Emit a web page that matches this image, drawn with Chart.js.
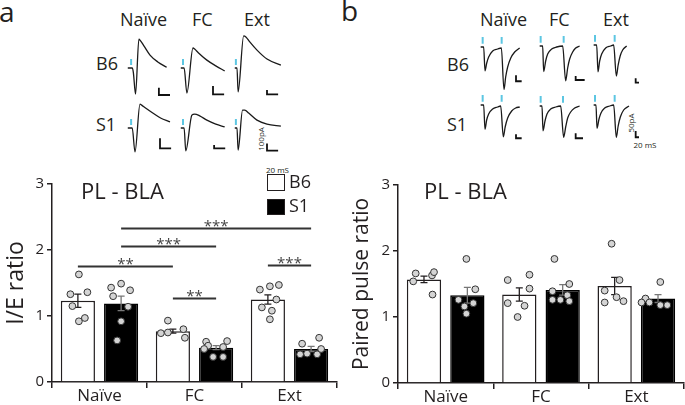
<!DOCTYPE html>
<html>
<head>
<meta charset="utf-8">
<script src="https://cdn.jsdelivr.net/npm/chart.js@4.4.0/dist/chart.umd.min.js"></script>
<style>
  body { margin: 0; background: #fff; }
  #fig { position: relative; width: 685px; height: 405px; overflow: hidden; background: #fff;
         font-family: "Open Sans", sans-serif; color: #231f20; }
  #fig canvas { position: absolute; }
  .lbl { position: absolute; white-space: nowrap; line-height: 1; }
  .panel { font-size: 28px; }
  .cond { font-size: 18px; }
  .ttl { font-size: 22px; }
  .scl { font-size: 8px; transform: translate(-50%, -50%); }
  .scl.rot { transform: translate(-50%, -50%) rotate(-90deg); }
  .box { position: absolute; box-sizing: border-box; width: 18px; height: 17px; border: 1.5px solid #231f20; }
</style>
</head>
<body>
<div id="fig">
  <div class="lbl panel" style="left:-1px;top:-3px">a</div>
  <div class="lbl panel" style="left:341px;top:-4px">b</div>

  <div class="lbl cond" style="left:120px;top:10px">Naïve</div>
  <div class="lbl cond" style="left:192px;top:10px">FC</div>
  <div class="lbl cond" style="left:244px;top:10px">Ext</div>
  <div class="lbl cond" style="left:96px;top:54px">B6</div>
  <div class="lbl cond" style="left:96px;top:115px">S1</div>
  <div class="lbl scl rot" style="left:260.5px;top:138.5px">100pA</div>
  <div class="lbl scl" style="left:277.5px;top:169.5px">20 mS</div>

  <div class="lbl cond" style="left:480px;top:10px">Naïve</div>
  <div class="lbl cond" style="left:549px;top:10px">FC</div>
  <div class="lbl cond" style="left:603px;top:10px">Ext</div>
  <div class="lbl cond" style="left:447px;top:55px">B6</div>
  <div class="lbl cond" style="left:447px;top:115px">S1</div>
  <div class="lbl scl rot" style="left:630.5px;top:123px">50pA</div>
  <div class="lbl scl" style="left:645px;top:144.5px">20 mS</div>

  <canvas id="ieChart" width="342" height="235" style="left:0;top:170px"></canvas>
  <canvas id="ieDots" width="342" height="235" style="left:0;top:170px"></canvas>
  <canvas id="pprChart" width="343" height="235" style="left:342px;top:170px"></canvas>
  <canvas id="pprDots" width="343" height="235" style="left:342px;top:170px"></canvas>

  <div class="lbl ttl" style="left:81px;top:179px">PL - BLA</div>
  <div class="lbl ttl" style="left:424px;top:179px">PL - BLA</div>
  <div class="box" style="left:267px;top:174px;background:#fff"></div>
  <div class="box" style="left:267px;top:199px;background:#000;height:16px"></div>
  <div class="lbl cond" style="left:289px;top:172px">B6</div>
  <div class="lbl cond" style="left:289px;top:196px">S1</div>
</div>
<script>
// I/E ratio and paired pulse ratio, PL - BLA, B6 vs S1 mice
const categories = ['Naïve', 'FC', 'Ext'];
const seriesNames = ['B6', 'S1'];
const yTicks = [0, 1, 2, 3];

// panel a: I/E ratio
const ieB6Mean = [1.23, 0.77, 1.25];
const ieS1Mean = [1.19, 0.52, 0.50];
const ieB6Sem = [0.10, 0.03, 0.07];
const ieS1Sem = [0.11, 0.03, 0.04];
const ieB6Points = [[1.63, 1.33, 1.36, 1.15, 0.92, 0.97], [0.93, 0.74, 0.75, 0.80, 0.67], [1.40, 1.45, 1.47, 1.25, 1.13, 1.08, 0.95]];
const ieS1Points = [[1.43, 1.49, 1.39, 1.30, 1.14, 0.92, 0.63], [0.61, 0.55, 0.50, 0.53, 0.62, 0.38, 0.38], [0.58, 0.67, 0.42, 0.43, 0.42, 0.50]];
// horizontal spread of the dots around the bar centre (px in the figure)
const ieB6Jitter = [[1, -7.5, 9.5, -5.5, 1, 7], [-5, -12, -5, 10.5, 12], [-8, 2, 11, 8.5, -6, 4, 2]];
const ieS1Jitter = [[-10, 0, 9, -8, 7, 0, -4], [-10, -8, -12, 7, 11, -3, 7], [-9, 8, -11, -4, 6, 10]];

// significance bars, bar index = category * 2 + series
const sigFrom = [0, 1, 1, 2, 4];
const sigTo = [2, 3, 5, 3, 5];
const sigHeight = [1.76, 2.06, 2.34, 1.28, 1.78];
const sigStars = ['**', '***', '***', '**', '***'];

// panel b: paired pulse ratio
const pprB6Mean = [1.57, 1.34, 1.47];
const pprS1Mean = [1.33, 1.41, 1.28];
const pprB6Sem = [0.05, 0.10, 0.13];
const pprS1Sem = [0.12, 0.08, 0.06];
const pprB6Points = [[1.54, 1.66, 1.63, 1.68, 1.34], [1.56, 1.64, 1.43, 1.21, 1.17, 1.00], [2.11, 1.56, 1.40, 1.22, 1.30, 1.24]];
const pprS1Points = [[1.88, 1.42, 1.26, 1.21, 1.16, 1.05], [1.88, 1.39, 1.50, 1.33, 1.26, 1.26, 1.24], [1.53, 1.28, 1.22, 1.22, 1.18, 1.18]];
const pprB6Jitter = [[-10.5, -8, 8.5, 10.5, 9], [-10, 12, 12, -10, 7, 0], [0, 8, -7, -7, 5, 12]];
const pprS1Jitter = [[0, 9, -8, 7, -2, 0], [-6, -8, 9, 7, -8, 0, 9], [6, -9, -13, -5, 6, 13]];

// example traces, panel a (ms, pA)
const ieNaiveB6_t = [0, 8, 10, 14, 20, 23, 29, 40, 54, 70];
const ieNaiveB6_pA = [0, 0, -60, -365, 405, 380, 310, 180, 85, 10];
const ieNaiveS1_t = [0, 8, 13, 22, 25, 32, 45, 59, 76];
const ieNaiveS1_pA = [0, 0, -335, 335, 320, 280, 210, 140, 85];
const ieFCB6_t = [0, 6, 11, 22, 25, 32, 47, 63, 79];
const ieFCB6_pA = [0, 0, -350, 280, 265, 210, 110, 30, -40];
const ieFCS1_t = [0, 6, 9, 20, 25, 34, 47, 63, 79];
const ieFCS1_pA = [0, 0, -320, 180, 195, 170, 110, 55, 15];
const ieExtB6_t = [0, 4, 6, 16, 20, 27, 40, 58, 83];
const ieExtB6_pA = [0, 0, -335, 450, 435, 365, 250, 125, 40];
const ieExtS1_t = [0, 4, 6, 14, 18, 25, 40, 58, 83];
const ieExtS1_pA = [0, 0, -310, 250, 250, 210, 110, 55, 25];

// example traces, panel b (ms, pA)
const pprNaiveB6_t = [0, 9, 13, 18, 24, 36, 51, 62, 70, 75, 81, 90, 102, 117];
const pprNaiveB6_pA = [0, 0, -190, -130, -80, -32, -16, -8, -340, -240, -160, -90, -40, -8];
const pprFCB6_t = [0, 9, 12, 18, 24, 36, 51, 69, 78, 84, 90, 99, 108, 120];
const pprFCB6_pA = [0, 0, -205, -120, -64, -24, -8, 0, -278, -176, -104, -48, -16, 0];
const pprExtB6_t = [0, 9, 13, 18, 24, 36, 51, 60, 68, 73.5, 79.5, 87, 99];
const pprExtB6_pA = [0, 0, -214, -128, -72, -24, -8, 0, -248, -160, -88, -40, -8];
const pprNaiveS1_t = [0, 9, 13, 18, 24, 36, 51, 60, 68, 73.5, 81, 93, 105, 117];
const pprNaiveS1_pA = [0, 0, -195, -120, -72, -32, -16, -8, -254, -176, -104, -48, -24, -16];
const pprFCS1_t = [0, 7, 10, 16, 22, 33, 48, 63, 72, 78, 84, 93, 105, 120];
const pprFCS1_pA = [0, 0, -198, -120, -64, -24, -8, 0, -250, -168, -96, -48, -16, 0];
const pprExtS1_t = [0, 7, 10, 16, 22, 33, 48, 60, 68, 73.5, 80, 90, 106];
const pprExtS1_pA = [0, 0, -186, -112, -64, -24, -8, 0, -258, -168, -96, -40, -8];

const INK = '#231f20';
const FONT = '"Open Sans", sans-serif';
const CAT_PCT = 0.91;
const BAR_PCT = 0.79;
const CAT_PX = 95;

Chart.defaults.font.family = FONT;
Chart.defaults.color = INK;

// error bars drawn right after each bar dataset
const errorBarPlugin = {
  id: 'errorBars',
  afterDatasetDraw(chart, args) {
    if (args.meta.type !== 'bar') return;
    const ds = chart.data.datasets[args.index];
    const ys = chart.scales.y;
    const ctx = chart.ctx;
    ctx.save();
    ctx.strokeStyle = ds.errColor;
    ctx.lineWidth = 1.3;
    args.meta.data.forEach((bar, i) => {
      const m = ds.data[i], e = ds.sem[i];
      const yt = ys.getPixelForValue(m + e), yb = ys.getPixelForValue(m - e);
      ctx.beginPath();
      ctx.moveTo(bar.x, yt); ctx.lineTo(bar.x, yb);
      ctx.moveTo(bar.x - 3.5, yt); ctx.lineTo(bar.x + 3.5, yt);
      ctx.moveTo(bar.x - 3.5, yb); ctx.lineTo(bar.x + 3.5, yb);
      ctx.stroke();
    });
    ctx.restore();
  }
};

const sigPlugin = {
  id: 'sigBars',
  afterDraw(chart) {
    const sig = chart.options.plugins.sigBars;
    if (!sig || !sig.from) return;
    const ctx = chart.ctx;
    const ys = chart.scales.y;
    const barX = idx => chart.getDatasetMeta(idx % 2).data[Math.floor(idx / 2)].x;
    ctx.save();
    sig.from.forEach((f, k) => {
      const x1 = barX(f), x2 = barX(sig.to[k]);
      const y = Math.round(ys.getPixelForValue(sig.height[k])) + 0.5;
      ctx.strokeStyle = '#333';
      ctx.lineWidth = 2;
      ctx.beginPath(); ctx.moveTo(x1, y); ctx.lineTo(x2, y); ctx.stroke();
      ctx.fillStyle = '#444';
      ctx.font = '15px ' + FONT;
      ctx.textAlign = 'center';
      ctx.textBaseline = 'alphabetic';
      ctx.fillText(sig.stars[k], (x1 + x2) / 2, y + 2);
    });
    ctx.restore();
  }
};

function dotData(vals, jit, side) {
  const out = [];
  vals.forEach((arr, c) => arr.forEach((v, k) => {
    out.push({ x: c + side * CAT_PCT / 4 + jit[c][k] / CAT_PX, y: v });
  }));
  return out;
}

function buildBarChart(id, cfg) {
  return new Chart(document.getElementById(id), {
    type: 'bar',
    data: {
      labels: categories,
      datasets: [
        { label: seriesNames[0], data: cfg.b6Mean, sem: cfg.b6Sem, errColor: INK,
          backgroundColor: '#fff', borderColor: INK, borderWidth: 1.5,
          categoryPercentage: CAT_PCT, barPercentage: BAR_PCT },
        { label: seriesNames[1], data: cfg.s1Mean, sem: cfg.s1Sem, errColor: '#777',
          backgroundColor: '#000', borderColor: '#000', borderWidth: 1.5,
          categoryPercentage: CAT_PCT, barPercentage: BAR_PCT }
      ]
    },
    options: {
      responsive: false,
      animation: false,
      events: [],
      layout: { padding: { top: cfg.padTop, right: cfg.padRight, left: 0, bottom: 0 } },
      plugins: { legend: { display: false }, tooltip: { enabled: false }, sigBars: cfg.sig || {} },
      scales: {
        x: {
          type: 'category', offset: true,
          grid: { offset: true, drawOnChartArea: false, color: INK, lineWidth: 1.5, tickLength: 6 },
          border: { color: INK, width: 1.5 },
          ticks: { font: { size: 17 }, color: INK, padding: -2, maxRotation: 0 },
          afterFit: s => { s.height = cfg.xHeight; }
        },
        y: {
          min: 0, max: 3,
          afterBuildTicks: s => { s.ticks = yTicks.map(v => ({ value: v })); },
          ticks: { font: { size: 15 }, color: INK, padding: 3 },
          grid: { drawOnChartArea: false, color: INK, lineWidth: 1.5, tickLength: 5 },
          border: { color: INK, width: 1.5 },
          title: { display: true, text: cfg.yTitle, color: INK, font: { size: cfg.yTitleSize },
                   padding: { top: cfg.yTitlePad, bottom: 0 } },
          afterFit: s => { s.width = cfg.yWidth; }
        }
      }
    },
    plugins: [errorBarPlugin, sigPlugin]
  });
}

// individual cells, drawn on a transparent chart with the same plot area
function buildDotChart(id, cfg) {
  const dotStyle = { pointRadius: 3.4, pointBackgroundColor: '#d4d4d4', pointBorderColor: '#333', pointBorderWidth: 1 };
  return new Chart(document.getElementById(id), {
    type: 'scatter',
    data: {
      datasets: [
        Object.assign({ label: seriesNames[0], data: dotData(cfg.b6Points, cfg.b6Jitter, -1) }, dotStyle),
        Object.assign({ label: seriesNames[1], data: dotData(cfg.s1Points, cfg.s1Jitter, 1) }, dotStyle)
      ]
    },
    options: {
      responsive: false, animation: false, events: [],
      layout: { padding: { top: cfg.padTop, right: cfg.padRight, left: cfg.yWidth, bottom: cfg.xHeight } },
      plugins: { legend: { display: false }, tooltip: { enabled: false } },
      scales: {
        x: { type: 'linear', display: false, min: -0.5, max: 2.5 },
        y: { type: 'linear', display: false, min: 0, max: 3 }
      }
    }
  });
}

const ieCfg = {
  b6Mean: ieB6Mean, s1Mean: ieS1Mean, b6Sem: ieB6Sem, s1Sem: ieS1Sem,
  b6Points: ieB6Points, s1Points: ieS1Points, b6Jitter: ieB6Jitter, s1Jitter: ieS1Jitter,
  sig: { from: sigFrom, to: sigTo, height: sigHeight, stars: sigStars },
  yTitle: 'I/E ratio', yTitleSize: 23, yTitlePad: 3,
  padTop: 14, padRight: 5, xHeight: 23, yWidth: 52
};
const pprCfg = {
  b6Mean: pprB6Mean, s1Mean: pprS1Mean, b6Sem: pprB6Sem, s1Sem: pprS1Sem,
  b6Points: pprB6Points, s1Points: pprS1Points, b6Jitter: pprB6Jitter, s1Jitter: pprS1Jitter,
  yTitle: 'Paired pulse ratio', yTitleSize: 21, yTitlePad: 7,
  padTop: 15, padRight: 1, xHeight: 22, yWidth: 56
};
buildBarChart('ieChart', ieCfg);
buildDotChart('ieDots', ieCfg);
buildBarChart('pprChart', pprCfg);
buildDotChart('pprDots', pprCfg);

// ---- example traces ----
const tracePlugin = {
  id: 'traceMarks',
  afterDatasetsDraw(chart) {
    const o = chart.options.plugins.traceMarks;
    const xs = chart.scales.x, ys = chart.scales.y, ctx = chart.ctx;
    ctx.save();
    ctx.strokeStyle = '#5cc6e2';
    ctx.lineWidth = 2;
    o.stim.forEach(t => {
      const x = xs.getPixelForValue(t);
      ctx.beginPath();
      ctx.moveTo(x, ys.getPixelForValue(o.stimLow));
      ctx.lineTo(x, ys.getPixelForValue(o.stimHigh));
      ctx.stroke();
    });
    const [t0, base, w, h] = o.bar;
    ctx.strokeStyle = '#111';
    ctx.lineWidth = 1.8;
    ctx.beginPath();
    ctx.moveTo(xs.getPixelForValue(t0), ys.getPixelForValue(base + h));
    ctx.lineTo(xs.getPixelForValue(t0), ys.getPixelForValue(base));
    ctx.lineTo(xs.getPixelForValue(t0 + w), ys.getPixelForValue(base));
    ctx.stroke();
    ctx.restore();
  }
};

function buildTrace(tr, span) {
  const cv = document.createElement('canvas');
  cv.width = span.w; cv.height = span.h;
  cv.style.left = (tr.x0 + span.xMin / span.msPerPx) + 'px';
  cv.style.top = (tr.y0 - span.yMax / span.pAPerPx) + 'px';
  document.getElementById('fig').appendChild(cv);
  new Chart(cv, {
    type: 'line',
    data: { datasets: [{ data: tr.t.map((t, i) => ({ x: t, y: tr.pA[i] })),
      borderColor: '#1a1a1a', borderWidth: 1.3, pointRadius: 0, cubicInterpolationMode: 'monotone' }] },
    options: {
      responsive: false, animation: false, events: [],
      layout: { padding: 0 },
      plugins: { legend: { display: false }, tooltip: { enabled: false },
        traceMarks: { stim: tr.stim, bar: tr.bar, stimLow: span.stimLow, stimHigh: span.stimHigh } },
      scales: {
        x: { type: 'linear', display: false, min: span.xMin, max: span.xMin + span.w * span.msPerPx },
        y: { type: 'linear', display: false, min: span.yMax - span.h * span.pAPerPx, max: span.yMax }
      }
    },
    plugins: [tracePlugin]
  });
}

const ieSpan = { w: 50, h: 63, xMin: -5, msPerPx: 1.8, yMax: 462, pAPerPx: 14, stimLow: 42, stimHigh: 126 };
[
  { t: ieNaiveB6_t, pA: ieNaiveB6_pA, stim: [6], bar: [56, -378, 20, 100], x0: 128, y0: 68 },
  { t: ieFCB6_t, pA: ieFCB6_pA, stim: [4], bar: [58, -368, 20, 115], x0: 180.7, y0: 68 },
  { t: ieExtB6_t, pA: ieExtB6_pA, stim: [2], bar: [58, -368, 20, 60], x0: 234.3, y0: 68 },
  { t: ieNaiveS1_t, pA: ieNaiveS1_pA, stim: [6], bar: [58, -284, 20, 140], x0: 128, y0: 128 },
  { t: ieFCS1_t, pA: ieFCS1_pA, stim: [4], bar: [60, -284, 20, 47], x0: 180.7, y0: 128 },
  { t: ieExtS1_t, pA: ieExtS1_pA, stim: [2], bar: [58, -317, 20, 100], x0: 234.3, y0: 128 }
].forEach(tr => buildTrace(tr, ieSpan));

const pprSpan = { w: 47, h: 59, xMin: -5, msPerPx: 3, yMax: 96, pAPerPx: 8, stimLow: 26, stimHigh: 80 };
[
  { t: pprNaiveB6_t, pA: pprNaiveB6_pA, stim: [6, 63], bar: [106, -274, 17, 48], x0: 480.7, y0: 46.7 },
  { t: pprFCB6_t, pA: pprFCB6_pA, stim: [3, 72], bar: [108, -272, 27, 32], x0: 540, y0: 46 },
  { t: pprExtB6_t, pA: pprExtB6_pA, stim: [4, 63], bar: [126, -301, 22, 35], x0: 594, y0: 45 },
  { t: pprNaiveS1_t, pA: pprNaiveS1_pA, stim: [6, 63], bar: [106, -266, 17, 32], x0: 480.7, y0: 105 },
  { t: pprFCS1_t, pA: pprFCS1_pA, stim: [3, 70], bar: [108, -258, 22, 40], x0: 540, y0: 106 },
  { t: pprExtS1_t, pA: pprExtS1_pA, stim: [4, 63], bar: [126, -258, 20, 50], x0: 594, y0: 105 }
].forEach(tr => buildTrace(tr, pprSpan));
</script>
</body>
</html>
